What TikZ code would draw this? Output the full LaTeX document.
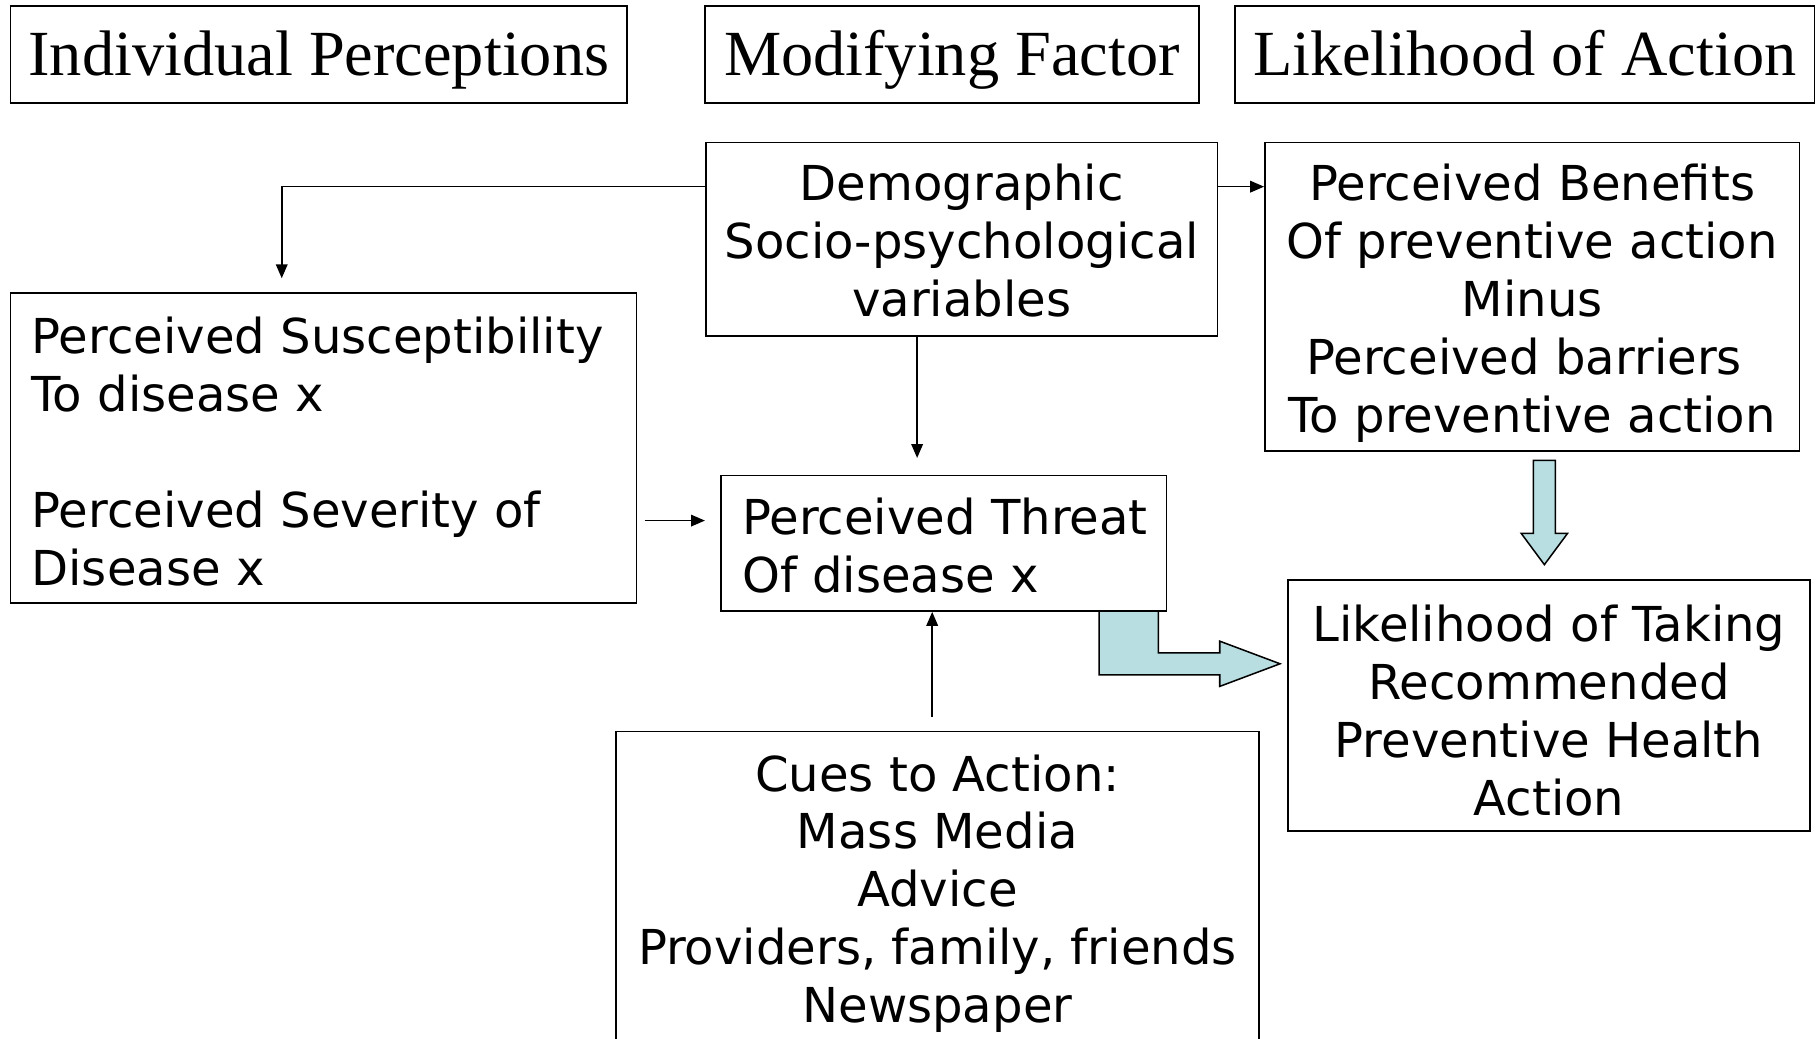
\documentclass[tikz,border=0pt]{standalone}
\usepackage{fontspec}
\setmainfont{Liberation Serif}
\newfontfamily\bodyfont{DejaVu Sans}
\usetikzlibrary{arrows.meta}
\definecolor{blockfill}{RGB}{184,222,225}

\begin{document}
\begin{tikzpicture}[x=1pt, y=-1pt,
  box/.style={draw, line width=1.5pt, inner sep=0pt},
  headbox/.style={box, font=\fontsize{55.5}{60}\selectfont,
    minimum height=84pt, text height=37pt, text depth=0pt},
  txt/.style={inner sep=0pt, font=\bodyfont\fontsize{41.5}{50}\selectfont},
  ctxt/.style={txt, align=center, anchor=north},
  ltxt/.style={txt, align=left, anchor=north west},
  conn/.style={line width=1.3pt, -{Triangle[length=12pt,width=10pt]}},
  block/.style={draw, line width=1.3pt, fill=blockfill, line join=miter}
]
\clip (0,0) rectangle (1568,896);
\fill[white] (0,0) rectangle (1568,896);

% column headings
\node[headbox, minimum width=532pt] (hIndiv) at (275,47) {Individual Perceptions};
\node[headbox, minimum width=426pt] (hMod)   at (821,47) {Modifying Factor};
\node[headbox, minimum width=500pt] (hLike)  at (1315,47) {Likelihood of Action};

% frames
\node[box, minimum width=441pt, minimum height=167pt] (demo)   at (829.5,206.5) {};
\node[box, minimum width=540pt, minimum height=267pt] (susc)   at (279,386.5) {};
\node[box, minimum width=384pt, minimum height=117pt] (threat) at (814,468.5) {};
\node[box, minimum width=461pt, minimum height=266pt] (benef)  at (1321.5,256) {};
\node[box, minimum width=450pt, minimum height=217pt] (likely) at (1336,608.5) {};
\node[box, minimum width=555pt, minimum height=272pt] (cues)   at (808.5,767) {};

% texts
\node[ctxt] (demoText) at (829.5,141.5)
  {Demographic\\Socio-psychological\\variables};
\node[ltxt] (suscText) at (27,273.5)
  {Perceived Susceptibility\\To disease x\\[50pt]Perceived Severity of\\Disease x};
\node[ltxt] (threatText) at (640,429.5)
  {Perceived Threat\\Of disease x};
\node[ctxt] (benefText) at (1321.5,141.5)
  {Perceived Benefits\\Of preventive action\\Minus\\Perceived barriers\rule{14pt}{0pt}\\To preventive action};
\node[ctxt] (likelyText) at (1336,521.5)
  {Likelihood of Taking\\Recommended\\Preventive Health\\Action};
\node[ctxt] (cuesText) at (808.5,650.5)
  {Cues to Action:\\Mass Media\\Advice\\Providers, family, friends\\Newspaper};

% free ends of the thin connectors
\coordinate (suscIn)   at (243,240);
\coordinate (threatIn) at (791,395);
\coordinate (suscOut)  at (556,449);
\coordinate (threatL)  at (608,449);
\coordinate (cuesOut)  at (804,618);

% thin connectors
\draw[conn] (demo.west |- 0,161) -| (suscIn);
\draw[conn] (demo.south -| 791,0) -- (threatIn);
\draw[conn] (demo.east |- 0,161) -- (benef.west |- 0,161);
\draw[conn] (suscOut) -- (threatL);
\draw[conn] (cuesOut) -- (threat.south -| 804,0);

% block arrows
\draw[block] (1322.5,397) -- (1341.5,397) -- (1341.5,460) -- (1352,460) -- (1332,487)
  -- (1312,460) -- (1322.5,460) -- cycle;
\draw[block] (948,527) -- (999,527) -- (999,563) -- (1052,563) -- (1052,553) -- (1104,572.5)
  -- (1052,592) -- (1052,582) -- (948,582) -- cycle;
\end{tikzpicture}
\end{document}
